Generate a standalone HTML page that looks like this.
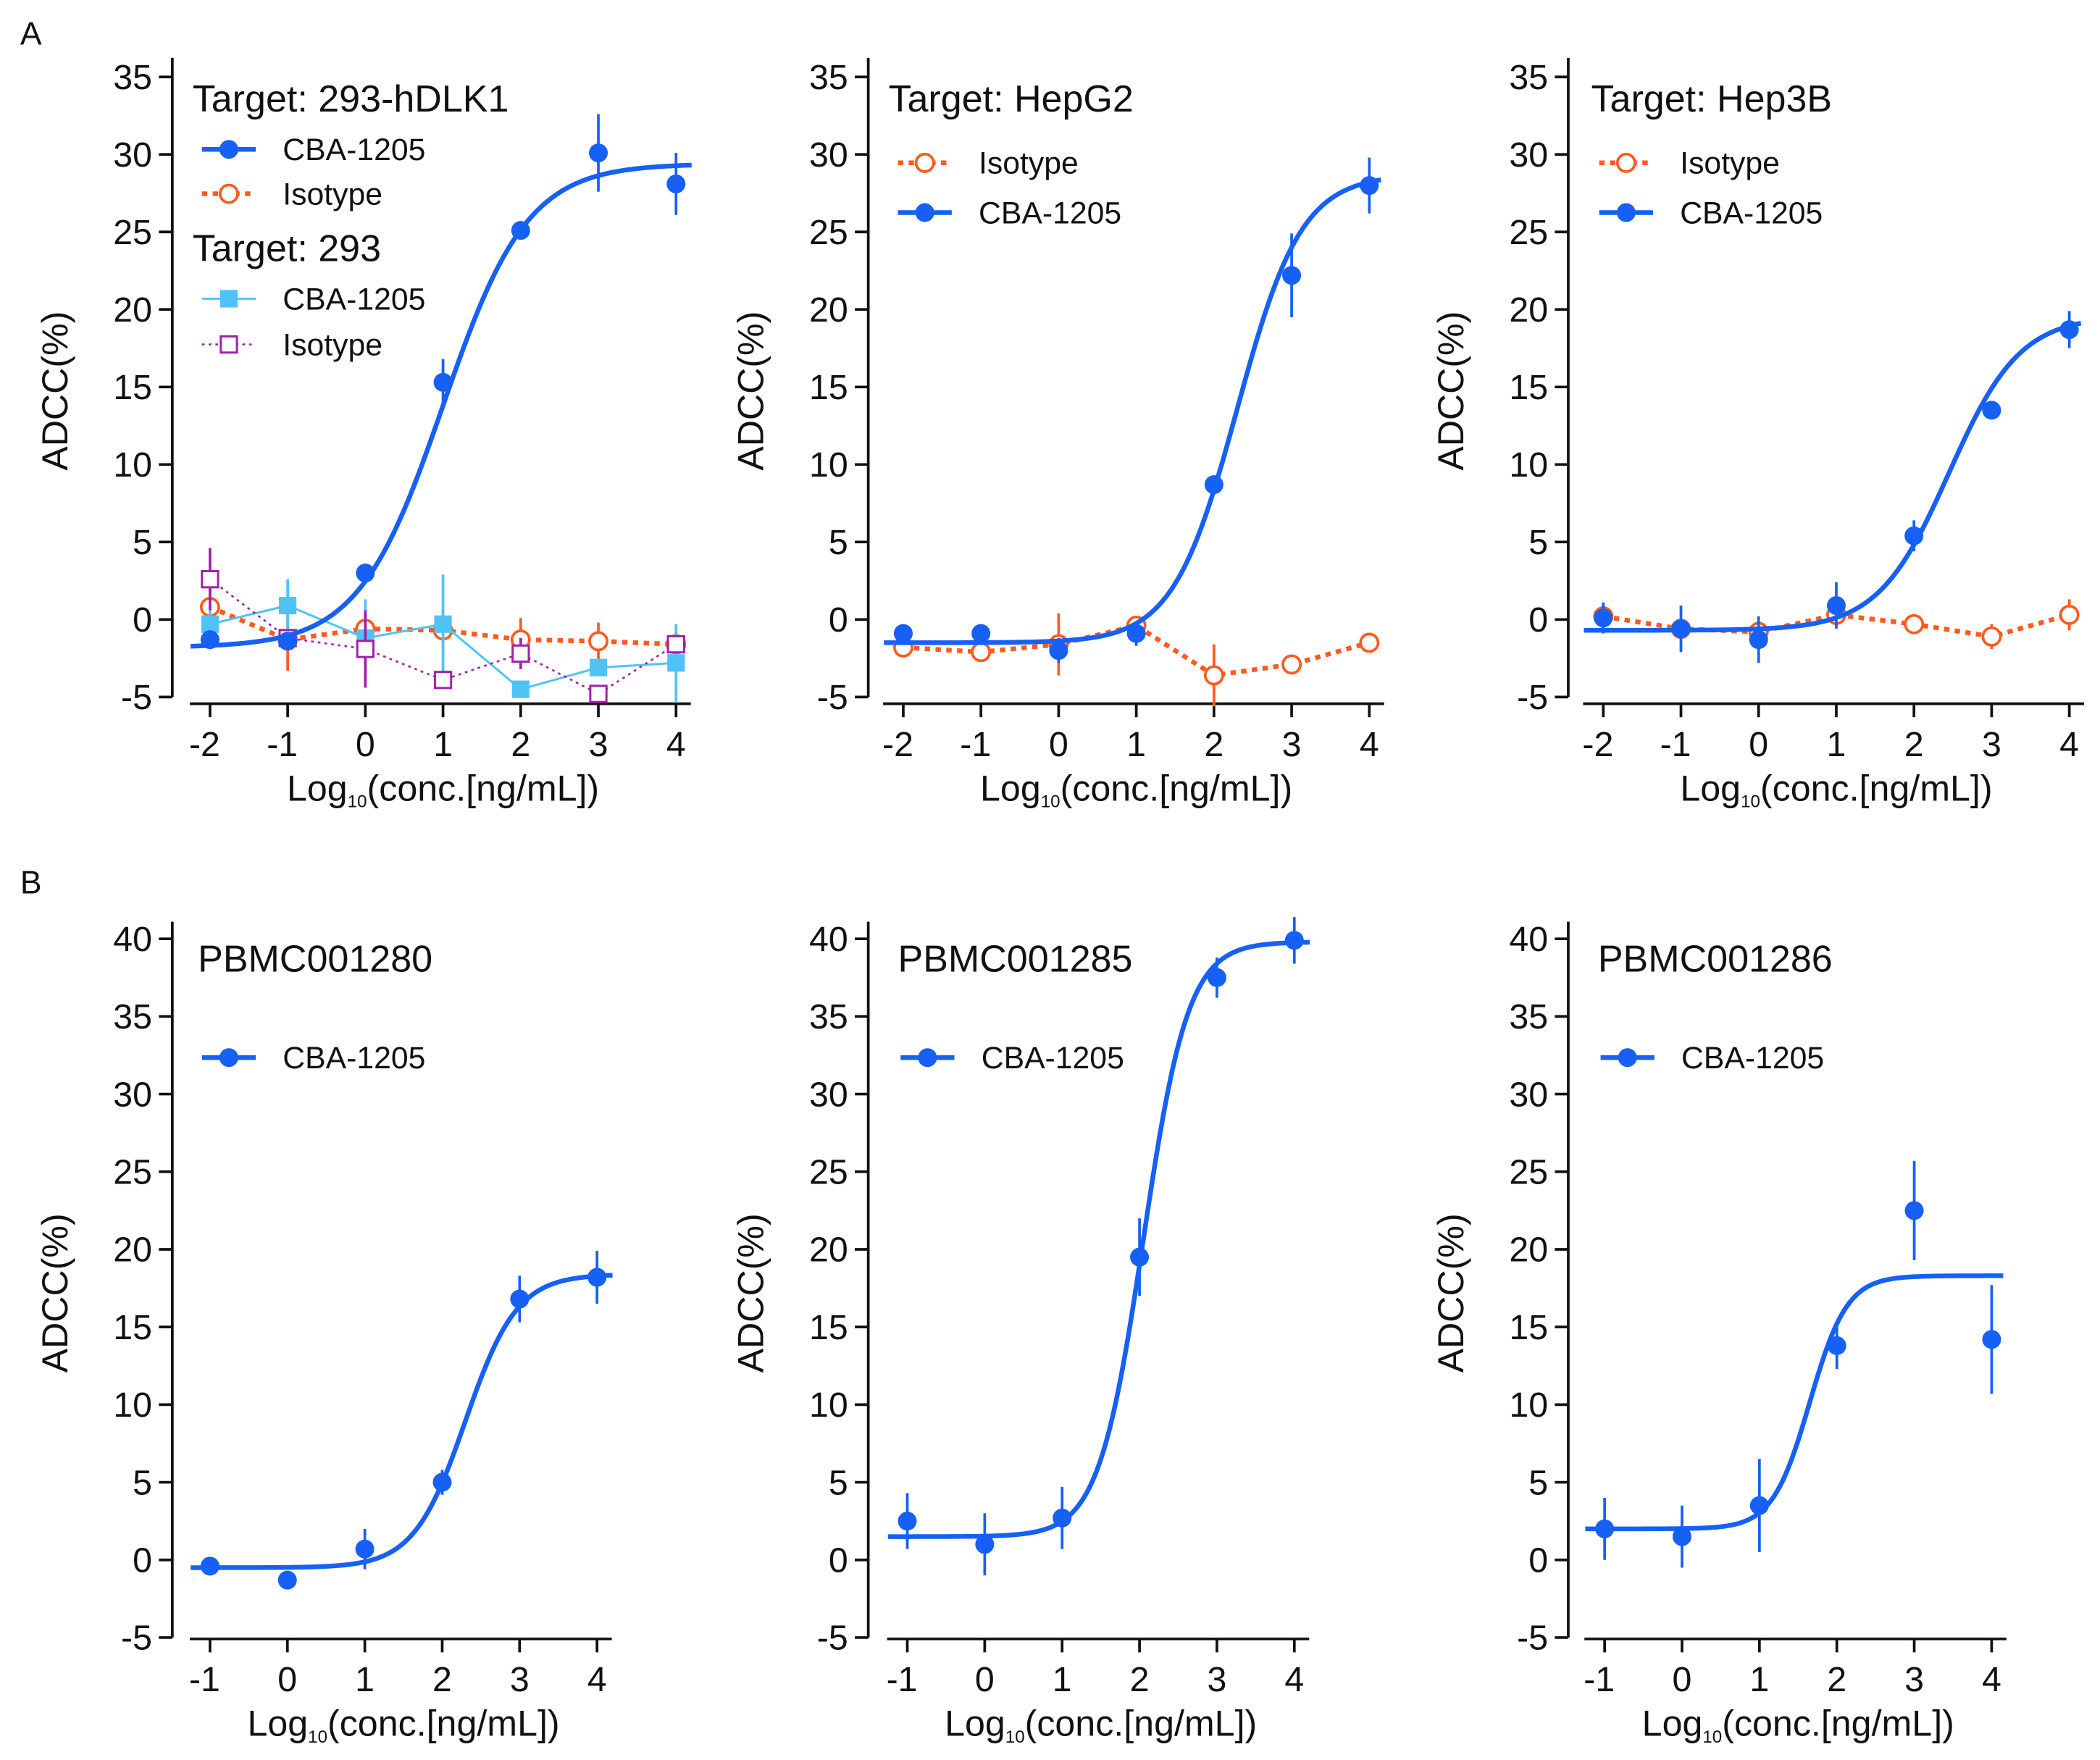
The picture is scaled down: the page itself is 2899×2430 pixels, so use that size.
<!DOCTYPE html>
<html><head><meta charset="utf-8"><style>
html,body{margin:0;padding:0;background:#fff}
svg{display:block}
text{font-family:"Liberation Sans",sans-serif;fill:#111}
</style></head><body>
<svg id="fig" width="2899" height="2430" viewBox="0 0 1560 1308" preserveAspectRatio="none" xmlns="http://www.w3.org/2000/svg"></svg>
<script>
// ---- data ----
const xA = [-2,-1,0,1,2,3,4];
const xB = [-1,0,1,2,3,4];
const a1Cba = [-1.3,-1.4,3.0,15.3,25.1,30.1,28.1];
const a1CbaErr = [0.5,0.5,0.5,1.5,0.5,2.5,2.0];
const a1Iso = [0.8,-1.3,-0.6,-0.7,-1.3,-1.4,-1.6];
const a1IsoErr = [1.5,2.0,1.0,1.3,1.4,1.2,0.8];
const a1Cba293 = [-0.3,0.9,-1.2,-0.3,-4.5,-3.1,-2.8];
const a1Cba293Err = [1.0,1.7,2.5,3.2,0.5,0.5,2.5];
const a1Iso293 = [2.6,-1.2,-1.9,-3.9,-2.2,-4.8,-1.6];
const a1Iso293Err = [2.0,0.5,2.5,0.5,1.0,0.5,0.5];
const a2Cba = [-0.9,-0.9,-2.0,-0.9,8.7,22.2,28.0];
const a2CbaErr = [0.5,0.5,0.8,0.8,0.5,2.7,1.8];
const a2Iso = [-1.8,-2.1,-1.6,-0.4,-3.6,-2.9,-1.5];
const a2IsoErr = [0.5,0.5,2.0,0.5,2.0,0.5,0.5];
const a3Cba = [0.1,-0.6,-1.3,0.9,5.4,13.5,18.7];
const a3CbaErr = [1.0,1.5,1.5,1.5,1.0,0.5,1.2];
const a3Iso = [0.2,-0.6,-0.8,0.3,-0.3,-1.1,0.3];
const a3IsoErr = [0.4,0.5,0.5,0.4,0.5,0.8,1.0];
const b1Cba = [-0.4,-1.3,0.7,5.0,16.8,18.2];
const b1CbaErr = [0.3,0.6,1.3,0.8,1.5,1.7];
const b2Cba = [2.5,1.0,2.7,19.5,37.5,39.9];
const b2CbaErr = [1.8,2.0,2.0,2.5,1.3,1.5];
const b3Cba = [2.0,1.5,3.5,13.8,22.5,14.2];
const b3CbaErr = [2.0,2.0,3.0,1.5,3.2,3.5];
// fit params [bottom, top, logEC50, hill]
const a1Fit = [-1.8,29.4,1.0,0.8];
const a2Fit = [-1.5,28.7,2.3,1.05];
const a3Fit = [-0.7,19.6,2.45,0.95];
const b1Fit = [-0.5,18.4,2.3,1.3];
const b2Fit = [1.5,39.8,2.05,1.5];
const b3Fit = [2.0,18.3,1.65,1.8];
const yTicksA = [-5,0,5,10,15,20,25,30,35];
const yTicksB = [-5,0,5,10,15,20,25,30,35,40];

const BLUE="#1660f5", ORANGE="#ff5a1f", LBLUE="#4fc3f7", PURPLE="#a020a8";
const svg=document.getElementById('fig');
const NS="http://www.w3.org/2000/svg";
function el(tag,attrs,parent){const e=document.createElementNS(NS,tag);for(const k in attrs)e.setAttribute(k,attrs[k]);(parent||svg).appendChild(e);return e;}

function makePanel(o){
  const g=el('g',{});
  
  
  const X=v=>o.x0+(v-o.xt0)*o.dx;
  const Y=v=>o.ybot-(v-o.ymin)*o.dy;
  const ya=el('line',{x1:o.ax,y1:o.ytop,x2:o.ax,y2:Y(o.ymin),stroke:'#111','stroke-width':2},g);
  
  o.yt.forEach(v=>{
    el('line',{x1:o.ax-10,y1:Y(v),x2:o.ax,y2:Y(v),stroke:'#111','stroke-width':2},g);
    const t=el('text',{x:o.ax-15,y:Y(v)+9,'text-anchor':'end','font-size':26},g);t.textContent=v;
    
  });
  const xs=o.xv;
  const xa=el('line',{x1:X(xs[0])-15,y1:o.xay,x2:X(xs[xs.length-1])+11,y2:o.xay,stroke:'#111','stroke-width':2},g);
  
  xs.forEach(v=>{
    el('line',{x1:X(v),y1:o.xay,x2:X(v),y2:o.xay+10,stroke:'#111','stroke-width':2},g);
    const t=el('text',{x:X(v)-(v<0?4:0),y:o.xay+39,'text-anchor':'middle','font-size':26},g);t.textContent=(v<0?'-'+(-v):v);
    
  });
  const cx=(X(xs[0])+X(xs[xs.length-1]))/2;
  const xt=el('text',{x:cx,y:o.xay+72,'text-anchor':'middle','font-size':27},g);
  xt.innerHTML='Log<tspan font-size="13" dy="5">10</tspan><tspan dy="-5">(conc.[ng/mL])</tspan>';
  
  const ycy=(o.ytop+Y(o.ymin))/2+10;
  const yt=el('text',{x:o.ax-78,y:ycy,'text-anchor':'middle','font-size':27,transform:`rotate(-90 ${o.ax-78} ${ycy})`},g);
  yt.textContent='ADCC(%)';
  
  o.series.forEach(s=>{
    const sg=el('g',{},g);
    
    s.y.forEach((v,i)=>{
      el('line',{x1:X(s.x[i]),y1:Y(v-s.e[i]),x2:X(s.x[i]),y2:Y(v+s.e[i]),stroke:s.c,'stroke-width':2},sg);
    });
    if(s.fit){
      const f=s.fit;let d='';
      for(let k=0;k<=200;k++){const xv=s.fx0+(s.fx1-s.fx0)*k/200;
        const yv=f[0]+(f[1]-f[0])/(1+Math.pow(10,(f[2]-xv)*f[3]));
        d+=(k?'L':'M')+X(xv).toFixed(2)+' '+Y(yv).toFixed(2);}
      const p=el('path',{d:d,fill:'none',stroke:s.c,'stroke-width':3.5},sg);
      
    } else {
      const pts=s.y.map((v,i)=>X(s.x[i])+','+Y(v)).join(' ');
      el('polyline',{points:pts,fill:'none',stroke:s.c,'stroke-width':s.lw,'stroke-dasharray':s.dash||'none'},sg);
    }
    s.y.forEach((v,i)=>{
      let m;
      if(s.m==='circle') m=el('circle',{cx:X(s.x[i]),cy:Y(v),r:7,fill:s.c},sg);
      else if(s.m==='ocircle') m=el('circle',{cx:X(s.x[i]),cy:Y(v),r:6.5,fill:'#fff',stroke:s.c,'stroke-width':2},sg);
      else if(s.m==='square') m=el('rect',{x:X(s.x[i])-6.5,y:Y(v)-6.5,width:13,height:13,fill:s.c},sg);
      else m=el('rect',{x:X(s.x[i])-6,y:Y(v)-6,width:12,height:12,fill:'#fff',stroke:s.c,'stroke-width':1.6},sg);
      
    });
  });
  o.legend.forEach(L=>{
    if(L.title){const t=el('text',{x:L.x,y:L.y+9,'font-size':28},g);t.textContent=L.title;
      return;}
    const lg=el('g',{},g);
    
    el('line',{x1:L.x,y1:L.y,x2:L.x+40,y2:L.y,stroke:L.c,'stroke-width':L.lw,'stroke-dasharray':L.dash||'none'},lg);
    const cx2=L.x+20;
    if(L.m==='circle') el('circle',{cx:cx2,cy:L.y,r:7,fill:L.c},lg);
    else if(L.m==='ocircle') el('circle',{cx:cx2,cy:L.y,r:6.5,fill:'#fff',stroke:L.c,'stroke-width':2},lg);
    else if(L.m==='square') el('rect',{x:cx2-6.5,y:L.y-6.5,width:13,height:13,fill:L.c},lg);
    else el('rect',{x:cx2-6,y:L.y-6,width:12,height:12,fill:'#fff',stroke:L.c,'stroke-width':1.6},lg);
    const t=el('text',{x:L.x+60,y:L.y+8,'font-size':23},lg);t.textContent=L.label;
  });
}

function cba(x,y,e,fit,fx0,fx1,name){return {name:name||'series-cba-1205',x:x,y:y,e:e,c:BLUE,m:'circle',fit:fit,fx0:fx0,fx1:fx1};}
function iso(x,y,e){return {name:'series-isotype',x:x,y:y,e:e,c:ORANGE,m:'ocircle',lw:3.5,dash:'4 4'};}

const rowA={ytop:43,ybot:518,ymin:-5,dy:57.6/5,xay:523,yt:yTicksA,xv:xA,xt0:-2,dx:57.7};
const rowB={ytop:685,ybot:1217,ymin:-5,dy:57.7/5,xay:1218,yt:yTicksB,xv:xB,xt0:-1,dx:57.5};

makePanel(Object.assign({},rowA,{name:'panel-a1-293-hdlk1',ax:128,x0:156,
  series:[iso(xA,a1Iso,a1IsoErr),
    {name:'series-293-cba-1205',x:xA,y:a1Cba293,e:a1Cba293Err,c:LBLUE,m:'square',lw:1.6},
    {name:'series-293-isotype',x:xA,y:a1Iso293,e:a1Iso293Err,c:PURPLE,m:'osquare',lw:1.4,dash:'2 3'},
    cba(xA,a1Cba,a1CbaErr,a1Fit,-2.25,4.2)],
  legend:[{title:'Target: 293-hDLK1',x:143,y:74},
    {x:150,y:111,c:BLUE,m:'circle',lw:3.5,label:'CBA-1205'},
    {x:150,y:144,c:ORANGE,m:'ocircle',lw:3.5,dash:'4 4',label:'Isotype'},
    {title:'Target: 293',x:143,y:185},
    {x:150,y:222,c:LBLUE,m:'square',lw:1.6,label:'CBA-1205'},
    {x:150,y:256,c:PURPLE,m:'osquare',lw:1.4,dash:'2 3',label:'Isotype'}]}));
makePanel(Object.assign({},rowA,{name:'panel-a2-hepg2',ax:645,x0:671,
  series:[iso(xA,a2Iso,a2IsoErr),cba(xA,a2Cba,a2CbaErr,a2Fit,-2.25,4.15)],
  legend:[{title:'Target: HepG2',x:660,y:74},
    {x:667,y:121,c:ORANGE,m:'ocircle',lw:3.5,dash:'4 4',label:'Isotype'},
    {x:667,y:158,c:BLUE,m:'circle',lw:3.5,label:'CBA-1205'}]}));
makePanel(Object.assign({},rowA,{name:'panel-a3-hep3b',ax:1165,x0:1191,
  series:[iso(xA,a3Iso,a3IsoErr),cba(xA,a3Cba,a3CbaErr,a3Fit,-2.25,4.15)],
  legend:[{title:'Target: Hep3B',x:1182,y:74},
    {x:1188,y:121,c:ORANGE,m:'ocircle',lw:3.5,dash:'4 4',label:'Isotype'},
    {x:1188,y:158,c:BLUE,m:'circle',lw:3.5,label:'CBA-1205'}]}));
makePanel(Object.assign({},rowB,{name:'panel-b1-pbmc001280',ax:128,x0:156,
  series:[cba(xB,b1Cba,b1CbaErr,b1Fit,-1.25,4.2)],
  legend:[{title:'PBMC001280',x:147,y:713},{x:150,y:786,c:BLUE,m:'circle',lw:3.5,label:'CBA-1205'}]}));
makePanel(Object.assign({},rowB,{name:'panel-b2-pbmc001285',ax:645,x0:674,
  series:[cba(xB,b2Cba,b2CbaErr,b2Fit,-1.25,4.2)],
  legend:[{title:'PBMC001285',x:667,y:713},{x:669,y:786,c:BLUE,m:'circle',lw:3.5,label:'CBA-1205'}]}));
makePanel(Object.assign({},rowB,{name:'panel-b3-pbmc001286',ax:1165,x0:1192,
  series:[cba(xB,b3Cba,b3CbaErr,b3Fit,-1.25,4.15)],
  legend:[{title:'PBMC001286',x:1187,y:713},{x:1189,y:786,c:BLUE,m:'circle',lw:3.5,label:'CBA-1205'}]}));

const la=el('text',{x:15,y:33,'font-size':24});la.textContent='A';

const lb=el('text',{x:15,y:664,'font-size':24});lb.textContent='B';

</script>
</body></html>
